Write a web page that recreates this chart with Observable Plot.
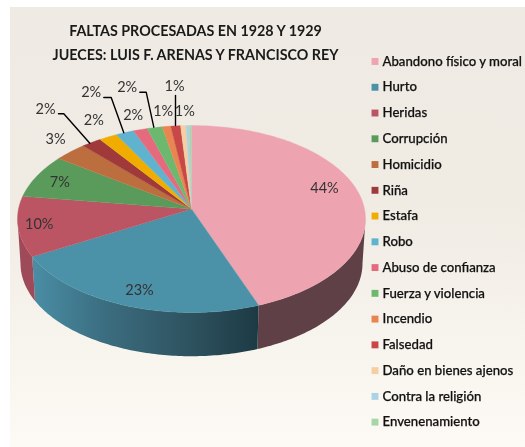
<!DOCTYPE html>
<html>
<head>
<meta charset="utf-8">
<script src="https://cdn.jsdelivr.net/npm/d3@7"></script>
<script src="https://cdn.jsdelivr.net/npm/@observablehq/plot@0.6"></script>
<style>html,body{margin:0;padding:0;background:#fff}svg{display:block;filter:blur(0.3px)}</style>
</head>
<body>
<script>
const categories = ["Abandono físico y moral","Hurto","Heridas","Corrupción","Homicidio","Riña","Estafa","Robo","Abuso de confianza","Fuerza y violencia","Incendio","Falsedad","Daño en bienes ajenos","Contra la religión","Envenenamiento"];
// Share of the drawn circle taken by each slice (in %).
const sliceShares = [43.7,24.7,10.5,7.3,3.1,1.9,1.7,1.7,1.3,1.4,0.8,0.9,0.5,0.3,0.2];
const printedLabels = ["44%","23%","10%","7%","3%","2%","2%","2%","2%","2%","1%","1%","1%"];
const sliceColors = ["#eea4b0","#4b92a9","#bb5563","#5a9a5a","#bd6e3e","#a03a3a","#f0ad00","#5fb3ce","#e56a7e","#6cb86e","#e98550","#c84747","#f5cfa0","#abd3e5","#a8d5a8"];
const titleLines = ["FALTAS PROCESADAS EN 1928 Y 1929","JUECES: LUIS F. ARENAS Y FRANCISCO REY"];

// Layout (chart units of the x and y scales)
const labelX = [324,139,38.7,59.3,55,45,93.3,90.7,132.7,126.7,162.7,174,184.3];
const labelY = [188,290,224,182,139.3,109,120,91.7,115,87.3,110.7,85.7,110.7];
const leaderX = [[58,63.3,89.3],[103.3,110.7,123.3],[139.3,145.7,153.3],[175,175]];
const leaderY = [[113.3,113.3,142.7],[97,97,132.3],[91.7,91.7,126.7],[95,125]];
const apex = {x:191,y:208.5};
const rim = {x:191,y:218.5,rx:174,ry:93.5};
const base = {x:191,y:263,rx:171,ry:92.7};
const legendTop = 61, legendStep = 25.76;

const total = d3.sum(sliceShares);
const ends = d3.cumsum(sliceShares).map(v => v / total * 360);
const starts = [0,...ends.slice(0,-1)];
const onEllipse = (e,deg) => ({x:e.x+e.rx*Math.sin(deg*Math.PI/180), y:e.y-e.ry*Math.cos(deg*Math.PI/180)});
const arc = (e,a,b) => {
  const n = Math.max(2,Math.ceil(Math.abs(b-a)));
  return d3.range(n+1).map(i => onEllipse(e,a+(b-a)*i/n));
};
const topFace = categories.flatMap((name,i) =>
  [apex,...arc(rim,starts[i],ends[i])].map(p => ({...p,name})));
const sidePaints = ["#5e4046","url(#hurtoSide)","#9e4a58"];
const sideFace = [0,1,2].flatMap(i => {
  const a = Math.max(starts[i],90), b = Math.min(ends[i],270);
  return [...arc(rim,a,b),...arc(base,b,a)].map(p => ({...p,name:categories[i],paint:sidePaints[i]}));
});
const leaders = leaderX.flatMap((xs,k) => xs.map((x,j) => ({x,y:leaderY[k][j],k})));
const font = "Lato, 'Noto Sans', sans-serif";

const defs = () => {
  const d = d3.create("svg:defs");
  const bg = d.append("linearGradient").attr("id","panel").attr("x1",0).attr("y1",0).attr("x2",0).attr("y2",1);
  [[0,"#efebe4"],[0.45,"#f0ece4"],[1,"#fdfaf5"]].forEach(([o,c]) => bg.append("stop").attr("offset",o).attr("stop-color",c));
  const h = d.append("linearGradient").attr("id","hurtoSide").attr("x1",0).attr("y1",0).attr("x2",1).attr("y2",0);
  [[0,"#4a8ea5"],[0.3,"#3c6f82"],[0.7,"#2e525f"],[1,"#1c3a44"]].forEach(([o,c]) => h.append("stop").attr("offset",o).attr("stop-color",c));
  return d.node();
};

const chart = Plot.plot({
  width:525, height:447, margin:0,
  style:{background:"transparent",fontFamily:font},
  x:{domain:[0,525],range:[0,525],axis:null},
  y:{domain:[0,447],range:[0,447],axis:null},
  color:{domain:categories,range:sliceColors},
  marks:[
    defs,
    Plot.rect([0],{x1:()=>10,x2:()=>525,y1:()=>7,y2:()=>447,fill:"url(#panel)"}),
    Plot.line(sideFace,{x:"x",y:"y",z:"name",fill:{value:"paint",scale:null},stroke:"none"}),
    Plot.line(topFace,{x:"x",y:"y",z:"name",fill:"name",stroke:"name",strokeWidth:0.4}),
    Plot.line(leaders,{x:"x",y:"y",z:"k",stroke:"#000",strokeWidth:1.4}),
    Plot.text(printedLabels,{x:(d,i)=>labelX[i],y:(d,i)=>labelY[i],text:d=>d,fontSize:14.5,fill:"#333",fontFamily:font}),
    Plot.text(titleLines,{x:()=>195,y:(d,i)=>31+i*23.5,text:d=>d,fontSize:14.3,fontWeight:700,fill:"#1a1a1a",fontFamily:font}),
    Plot.dot(categories,{x:()=>374.5,y:(d,i)=>legendTop+i*legendStep,symbol:"square",r:3.9,fill:d=>d}),
    Plot.text(categories,{x:()=>382,y:(d,i)=>legendTop+i*legendStep,text:d=>d,textAnchor:"start",fontSize:13.2,fontWeight:500,fill:"#111",stroke:"#111",strokeWidth:0.25,fontFamily:font})
  ]
});
document.body.appendChild(chart);
</script>
</body>
</html>
